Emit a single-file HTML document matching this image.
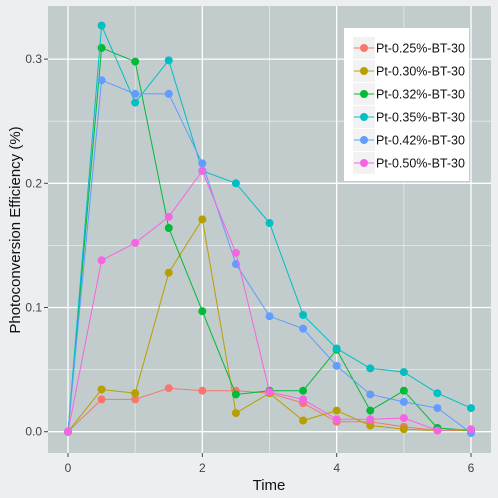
<!DOCTYPE html>
<html><head><meta charset="utf-8"><style>
body{margin:0;background:#edeef0;}
svg{display:block;font-family:"Liberation Sans",sans-serif;}
</style></head><body>
<svg id="chart" width="498" height="498">
<rect width="498" height="498" fill="#edeef0"/>
<rect x="48" y="6" width="443" height="447" fill="#c2cccc"/>
<g id="grid"></g><g id="axes"></g><g id="series"></g><g id="legend"></g>
<text x="269" y="490" text-anchor="middle" font-size="15" fill="#111">Time</text>
<text transform="translate(20,230) rotate(-90)" text-anchor="middle" font-size="15" fill="#111">Photoconversion Efficiency (%)</text>
</svg>
<script>
const times=[0,0.5,1,1.5,2,2.5,3,3.5,4,4.5,5,5.5,6];
const seriesNames=["Pt-0.25%-BT-30","Pt-0.30%-BT-30","Pt-0.32%-BT-30","Pt-0.35%-BT-30","Pt-0.42%-BT-30","Pt-0.50%-BT-30"];
const s025=[0,0.026,0.026,0.035,0.033,0.033,0.031,0.023,0.008,0.008,0.004,0.001,0.001];
const s030=[0,0.034,0.031,0.128,0.171,0.015,0.031,0.009,0.017,0.005,0.002,0.001,0.001];
const s032=[0,0.309,0.298,0.164,0.097,0.030,0.033,0.033,0.066,0.017,0.033,0.003,0.001];
const s035=[0,0.327,0.265,0.299,0.210,0.200,0.168,0.094,0.067,0.051,0.048,0.031,0.019];
const s042=[0,0.283,0.272,0.272,0.216,0.135,0.093,0.083,0.053,0.030,0.024,0.019,-0.001];
const s050=[0,0.138,0.152,0.173,0.210,0.144,0.032,0.026,0.010,0.010,0.011,0.001,0.002];
const xTicks=[0,2,4,6];
const yTicks=[0,0.1,0.2,0.3];
const yTickLabels=["0.0","0.1","0.2","0.3"];
const colors=["#f8766d","#b79f00","#00ba38","#00bfc4","#619cff","#f564e3"];
const allSeries=[s025,s030,s032,s035,s042,s050];
const NS="http://www.w3.org/2000/svg";
const X=v=>68+v*67.17, Y=v=>431.7-v*1242;
function mk(tag,attrs,parent){const e=document.createElementNS(NS,tag);for(const k in attrs)e.setAttribute(k,attrs[k]);parent.appendChild(e);return e;}
const grid=document.getElementById('grid'),axes=document.getElementById('axes'),ser=document.getElementById('series'),leg=document.getElementById('legend');
[1,3,5].forEach(v=>{const l=mk('line',{x1:X(v),x2:X(v),y1:6,y2:453,stroke:'#fff','stroke-width':0.8,opacity:0.6},grid);

});
[0.05,0.15,0.25].forEach(v=>{const l=mk('line',{x1:48,x2:491,y1:Y(v),y2:Y(v),stroke:'#fff','stroke-width':0.8,opacity:0.6},grid);

});
xTicks.forEach(v=>{const l=mk('line',{x1:X(v),x2:X(v),y1:6,y2:453,stroke:'#fff','stroke-width':1.3},grid);


const t=mk('line',{x1:X(v),x2:X(v),y1:453,y2:457,stroke:'#444'},axes);


const tx=mk('text',{x:X(v),y:472,'text-anchor':'middle','font-size':12,fill:'#444'},axes);tx.textContent=v;

});
yTicks.forEach((v,i)=>{const l=mk('line',{x1:48,x2:491,y1:Y(v),y2:Y(v),stroke:'#fff','stroke-width':1.3},grid);


const t=mk('line',{x1:44,x2:48,y1:Y(v),y2:Y(v),stroke:'#444'},axes);


const tx=mk('text',{x:42,y:Y(v)+4,'text-anchor':'end','font-size':12,fill:'#444'},axes);tx.textContent=yTickLabels[i];

});
allSeries.forEach((s,k)=>{const g=mk('g',{},ser);


const pl=mk('polyline',{points:s.map((v,i)=>X(times[i])+','+Y(v)).join(' '),fill:'none',stroke:colors[k],'stroke-width':1},g);


s.forEach((v,i)=>{const c=mk('circle',{cx:X(times[i]),cy:Y(v),r:4,fill:colors[k]},g);

});});
const box=mk('rect',{x:344,y:28,width:125,height:153,fill:'#fff'},leg);


seriesNames.forEach((n,k)=>{const y=48+k*23;const g=mk('g',{},leg);


mk('rect',{x:353,y:y-11,width:22,height:22,fill:'#f2f2f2'},g);
mk('line',{x1:354,x2:374,y1:y,y2:y,stroke:colors[k],'stroke-width':1},g);
mk('circle',{cx:364,cy:y,r:4,fill:colors[k]},g);
const t=mk('text',{x:376,y:y+4.5,'font-size':12.5,fill:'#111'},g);t.textContent=n;});
</script>
</body></html>
